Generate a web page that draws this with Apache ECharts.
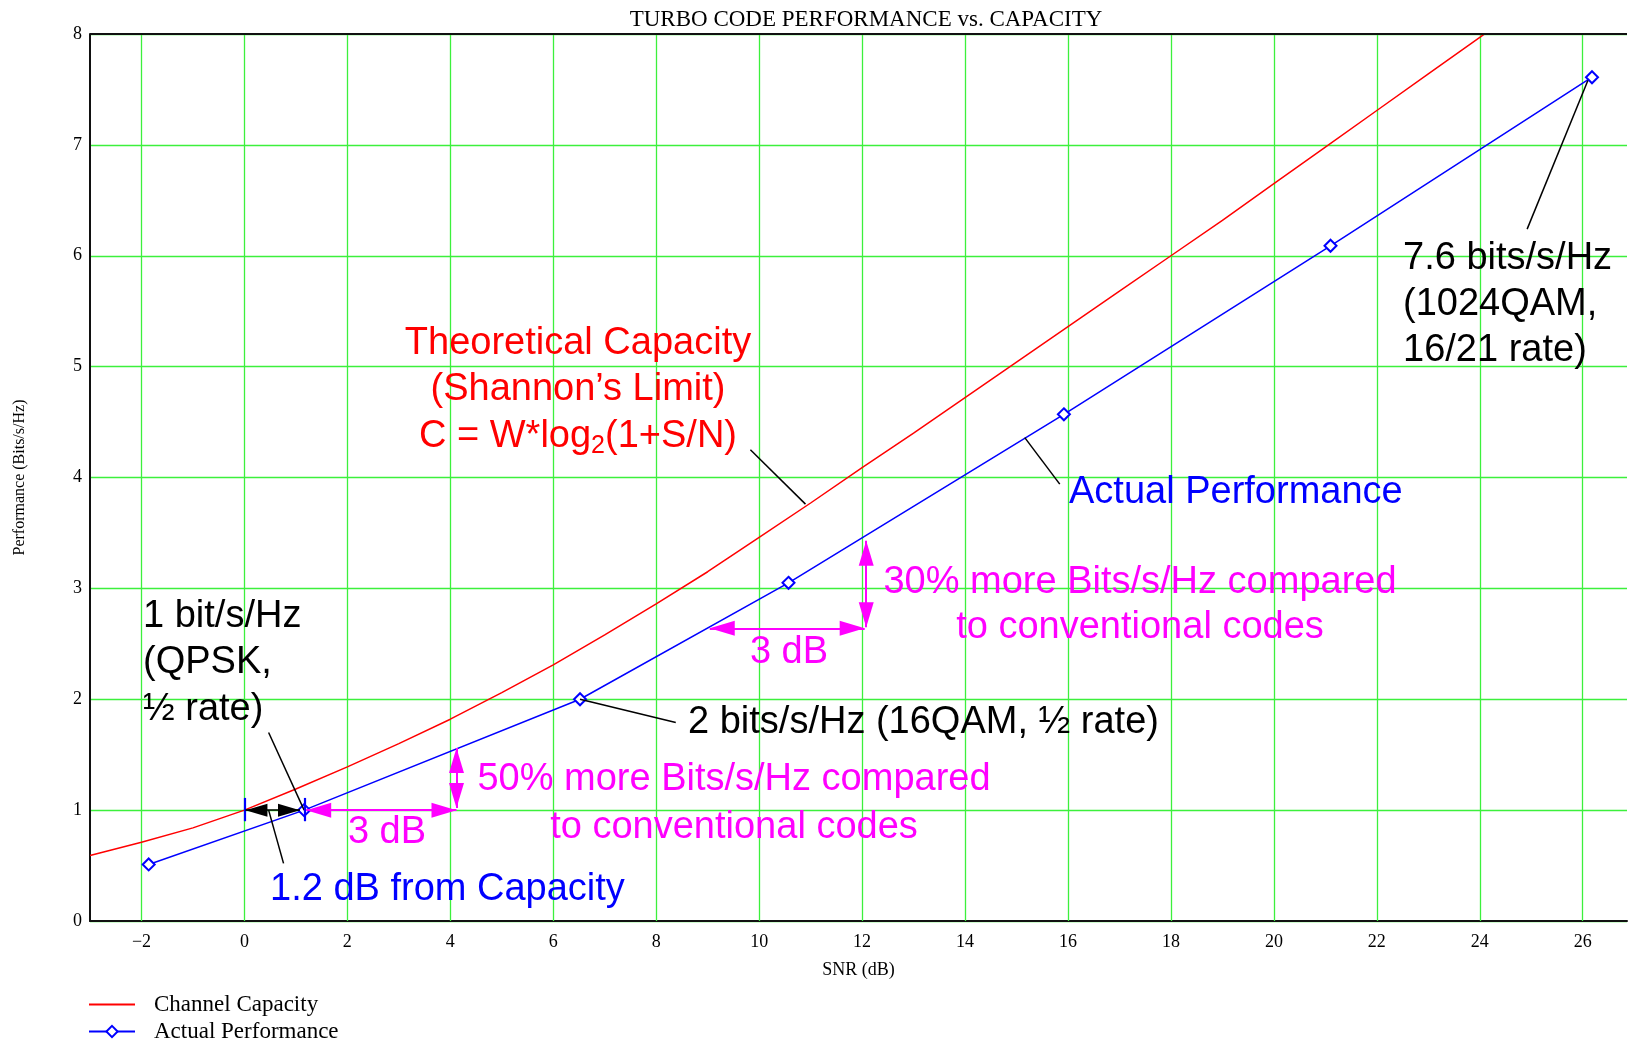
<!DOCTYPE html>
<html><head><meta charset="utf-8">
<script src="https://cdn.jsdelivr.net/npm/echarts@6/dist/echarts.min.js"></script>
<style>html,body{margin:0;padding:0;background:#fff}#c{width:1630px;height:1043px}</style>
</head><body><div id="c"></div>
<script>
// ---------------- data ----------------
const snrGridTicks = [-2, 0, 2, 4, 6, 8, 10, 12, 14, 16, 18, 20, 22, 24, 26];
const capacitySnr  = [-3, -2, -1, 0, 1, 2, 3, 4, 5, 6, 7, 8, 9, 10, 11, 12, 13, 14, 15, 16, 17, 18, 19, 20, 21, 22, 23, 24, 25];
const capacityBits = [0.59, 0.71, 0.84, 1.00, 1.19, 1.39, 1.60, 1.82, 2.06, 2.31, 2.58, 2.86, 3.15, 3.46, 3.77, 4.09, 4.40, 4.72, 5.04, 5.36, 5.68, 6.00, 6.32, 6.65, 6.98, 7.31, 7.64, 7.97, 8.30];
const actualSnr  = [-1.86, 1.16, 6.52, 10.57, 15.92, 21.1, 26.18];
const actualBits = [0.51, 1.0, 2.0, 3.05, 4.57, 6.09, 7.61];
const seriesNames = ['Channel Capacity', 'Actual Performance'];
const yTop = 8;
// annotation geometry in data units [snr, bits]
const leaderLines = [
  [[9.83, 4.25], [10.9, 3.76]],
  [[15.84, 3.94], [15.16, 4.36]],
  [[24.92, 6.24], [26.1, 7.58]],
  [[0.47, 1.70], [1.16, 1.0]],
  [[0.76, 0.52], [0.47, 1.0]],
  [[6.52, 2.0], [8.38, 1.79]]
];
const blackArrow = [[0.02, 1.0], [1.08, 1.0]];
const magentaArrows = [
  [[1.2, 1.0], [4.12, 1.0]],
  [[4.12, 1.02], [4.12, 1.56]],
  [[9.04, 2.64], [12.05, 2.64]],
  [[12.08, 2.65], [12.08, 3.43]]
];
const blueTicks = [
  [[0, 0.9], [0, 1.11]],
  [[1.17, 0.9], [1.17, 1.11]]
];
const texts = {
  title: 'TURBO CODE PERFORMANCE vs. CAPACITY',
  xName: 'SNR (dB)',
  yName: 'Performance (Bits/s/Hz)',
  theory: ['Theoretical Capacity', '(Shannon\u2019s Limit)'],
  actual: 'Actual Performance',
  top: ['7.6 bits/s/Hz', '(1024QAM,', '16/21 rate)'],
  qpsk: ['1 bit/s/Hz', '(QPSK,', '\u00bd rate)'],
  gap: '1.2 dB from Capacity',
  db3: '3 dB',
  p50: ['50% more Bits/s/Hz compared', 'to conventional codes'],
  p30: ['30% more Bits/s/Hz compared', 'to conventional codes'],
  qam16: '2 bits/s/Hz (16QAM, \u00bd rate)'
};

// ---------------- chart ----------------
const SANS = '"Liberation Sans", Arial, sans-serif';
const SERIF = '"Liberation Serif", "Times New Roman", serif';
const GREEN = '#3cf03c';
const chart = echarts.init(document.getElementById('c'));

const seg = pairs => pairs.map(p => [{coord: p[0]}, {coord: p[1]}]);
function mlSeries(name, data, color, width, z, extra) {
  return {
    name: name, type: 'line', data: [], silent: true, z: z,
    markLine: Object.assign({
      silent: true, symbol: ['none', 'none'], z: z, animation: false,
      label: {show: false}, emphasis: {disabled: true},
      lineStyle: {color: color, width: width, type: 'solid'},
      data: data
    }, extra || {})
  };
}
function txt(x, y, text, color, align) {
  return {type: 'text', x: x, y: y, silent: true, z: 100,
    style: {text: text, fill: color, font: 'normal 38px ' + SANS,
      align: align, textAlign: align, verticalAlign: 'middle', textVerticalAlign: 'middle'}};
}

const option = {
  animation: false,
  backgroundColor: '#fff',
  title: {
    text: texts.title, left: 866, textAlign: 'center', top: 8, padding: 0,
    textStyle: {fontFamily: SERIF, fontSize: 23, fontWeight: 'normal', color: '#000'}
  },
  grid: {left: 90, right: 0, top: 34, bottom: 122, containLabel: false},
  legend: {
    data: [
      {name: seriesNames[0], itemStyle: {opacity: 0}},
      {name: seriesNames[1]}
    ],
    orient: 'vertical', left: 88, top: 993, itemGap: 4, padding: 0, height: 60,
    itemWidth: 46, itemHeight: 14, selectedMode: false,
    textStyle: {fontFamily: SERIF, fontSize: 23, color: '#000', padding: [0, 0, 0, 14]}
  },
  xAxis: {
    type: 'value', min: -3, max: 26.86, interval: 1,
    name: texts.xName, nameLocation: 'middle', nameGap: 40,
    nameTextStyle: {fontFamily: SERIF, fontSize: 18, color: '#000'},
    axisLine: {onZero: false, lineStyle: {color: '#111', width: 2}},
    axisTick: {show: false}, splitLine: {show: false},
    axisLabel: {
      margin: 12, fontFamily: SERIF, fontSize: 18, color: '#000',
      formatter: v => (Number.isInteger(v) && v % 2 === 0) ? (v < 0 ? '\u2212' + (-v) : String(v)) : ''
    }
  },
  yAxis: {
    type: 'value', min: 0, max: yTop, interval: 1,
    name: texts.yName, nameLocation: 'middle', nameGap: 62,
    nameTextStyle: {fontFamily: SERIF, fontSize: 16, color: '#000'},
    axisLine: {show: true, onZero: false, lineStyle: {color: '#111', width: 2}},
    axisTick: {show: false},
    splitLine: {show: true, lineStyle: {color: GREEN, width: 1.3}},
    axisLabel: {margin: 8, fontFamily: SERIF, fontSize: 18, color: '#000'}
  },
  series: [
    mlSeries('gridX', snrGridTicks.map(v => ({xAxis: v})), GREEN, 1.3, 1),
    {
      name: seriesNames[0], type: 'line', z: 3,
      data: capacitySnr.map((x, i) => [x, capacityBits[i]]),
      showSymbol: false, symbol: 'none', clip: true,
      lineStyle: {color: '#ff0000', width: 1.5}, itemStyle: {color: '#ff0000'}
    },
    {
      name: seriesNames[1], type: 'line', z: 4,
      data: actualSnr.map((x, i) => [x, actualBits[i]]),
      symbol: 'emptyDiamond', symbolSize: 12, showSymbol: true, clip: false,
      lineStyle: {color: '#0000ff', width: 1.5},
      itemStyle: {color: '#0000ff', borderColor: '#0000ff', borderWidth: 1.5}
    },
    mlSeries('topBorder', [{yAxis: yTop}], '#111', 2, 6),
    mlSeries('leaders', seg(leaderLines), '#000', 1.5, 6),
    mlSeries('blueTicks', seg(blueTicks), '#0000ff', 2.2, 6),
    mlSeries('blackArrow', seg([blackArrow]), '#000', 1.5, 7, {
      symbol: ['triangle', 'triangle'], symbolSize: [13, 22], symbolOffset: [[0, 11], [0, 11]]
    }),
    mlSeries('magentaArrows', seg(magentaArrows), '#ff00ff', 2, 7, {
      symbol: ['triangle', 'triangle'], symbolSize: [15, 25], symbolOffset: [[0, 12.5], [0, 12.5]]
    })
  ],
  graphic: [
    txt(578, 344, texts.theory[0], '#ff0000', 'center'),
    txt(578, 390, texts.theory[1], '#ff0000', 'center'),
    {type: 'text', x: 578, y: 437, silent: true, z: 100,
      style: {text: '{a|C = W*log}{s|2}{a|(1+S/N)}', fill: '#ff0000',
        align: 'center', textAlign: 'center', verticalAlign: 'middle', textVerticalAlign: 'middle',
        font: 'normal 38px ' + SANS,
        rich: {
          a: {fontSize: 38, lineHeight: 44, fontFamily: SANS, fill: '#ff0000'},
          s: {fontSize: 25, lineHeight: 25, fontFamily: SANS, fill: '#ff0000', verticalAlign: 'bottom'}
        }}},
    txt(1069, 493, texts.actual, '#0000ff', 'left'),
    txt(1403, 259, texts.top[0], '#000', 'left'),
    txt(1403, 305, texts.top[1], '#000', 'left'),
    txt(1403, 351, texts.top[2], '#000', 'left'),
    txt(143, 617, texts.qpsk[0], '#000', 'left'),
    txt(143, 663, texts.qpsk[1], '#000', 'left'),
    txt(143, 710, texts.qpsk[2], '#000', 'left'),
    txt(270, 890, texts.gap, '#0000ff', 'left'),
    txt(387, 833, texts.db3, '#ff00ff', 'center'),
    txt(734, 780, texts.p50[0], '#ff00ff', 'center'),
    txt(734, 828, texts.p50[1], '#ff00ff', 'center'),
    txt(789, 653, texts.db3, '#ff00ff', 'center'),
    txt(1140, 583, texts.p30[0], '#ff00ff', 'center'),
    txt(1140, 628, texts.p30[1], '#ff00ff', 'center'),
    txt(688, 723, texts.qam16, '#000', 'left')
  ]
};
chart.setOption(option);
</script>
</body></html>
